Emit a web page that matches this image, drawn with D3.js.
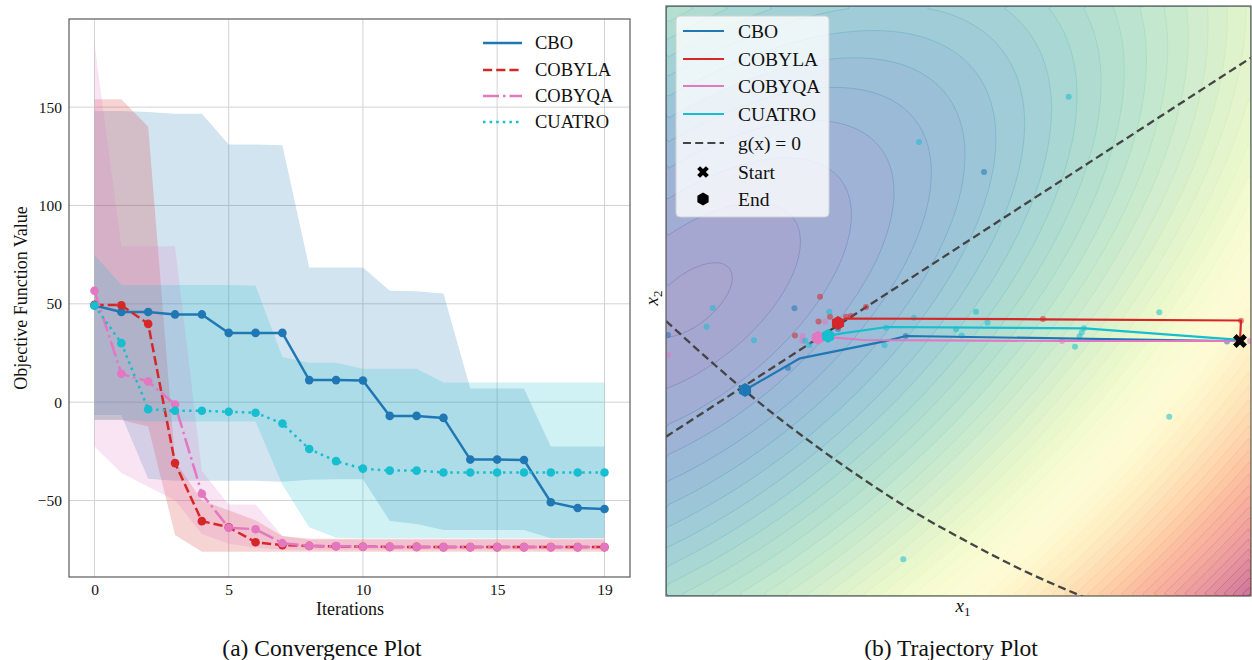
<!DOCTYPE html>
<html>
<head>
<meta charset="utf-8">
<script src="https://cdn.jsdelivr.net/npm/d3@7"></script>
<style>
  body { margin: 0; background: #fff; }
  svg text { font-family: "Liberation Serif", "Times New Roman", serif; fill: #111; }
</style>
</head>
<body>
<svg id="chart" width="1252" height="660"></svg>
<script>
// ---------------- Convergence data (objective value per iteration) ----------------
const iterations = d3.range(20);
const methodNames = ["CBO", "COBYLA", "COBYQA", "CUATRO"];
const methodColors = ["#1f77b4", "#d62728", "#e377c2", "#17becf"];

const cboValues    = [49.1, 45.8, 45.8, 44.6, 44.6, 35.2, 35.2, 35.2, 11.2, 11.2, 11.0, -7.0, -7.0, -8.0, -29.2, -29.2, -29.4, -50.9, -53.8, -54.3];
const cobylaValues = [49.5, 49.3, 39.8, -31.0, -60.5, -63.6, -71.2, -72.7, -73.1, -73.3, -73.5, -73.6, -73.6, -73.7, -73.7, -73.7, -73.7, -73.7, -73.7, -73.7];
const cobyqaValues = [56.6, 14.4, 10.5, -1.2, -46.6, -63.9, -64.6, -71.7, -73.1, -73.2, -73.5, -73.6, -73.6, -73.7, -73.7, -73.7, -73.7, -73.7, -73.7, -73.7];
const cuatroValues = [49.1, 30.0, -3.6, -4.4, -4.4, -4.9, -5.4, -10.9, -23.8, -30.0, -33.8, -34.8, -34.8, -35.8, -35.8, -35.8, -35.8, -35.8, -35.8, -35.8];

// spread across runs (upper / lower envelope)
const cboUpper    = [148, 148, 147.5, 146.6, 146.6, 131, 131, 130.6, 68.5, 68.5, 68.5, 56.6, 56.4, 55.2, 6.9, 6.9, 6.9, -22.6, -22.6, -22.6];
const cboLower    = [-6.5, -6.5, -39, -40, -40, -40, -40, -40.5, -39.5, -39.2, -39.2, -60.4, -62, -65, -65, -65, -65, -69.2, -69.2, -69.2];
const cobylaUpper = [154, 154, 140, -30, -50, -55, -60, -68, -69.5, -69.5, -69.5, -69.5, -69.5, -69.5, -69.5, -69.5, -69.5, -69.5, -69.5, -69.5];
const cobylaLower = [-9.1, -9.1, -12.4, -67.5, -76, -76, -76, -76, -76, -76, -76, -76, -76, -76, -76, -76, -76, -76, -76, -76];
const cobyqaUpper = [181.9, 79.2, 79.2, 79.2, -35, -52, -52, -68, -70, -70, -70, -70, -70, -70, -70, -70, -70, -70, -70, -70];
const cobyqaLower = [-22.6, -36, -43, -50, -67, -72, -74, -75, -75, -75, -75, -75, -75, -75, -75, -75, -75, -75, -75, -75];
const cuatroUpper = [75, 59.5, 59.5, 59.5, 59.5, 59.5, 59.2, 23, 20, 20, 17, 17, 17, 10, 10, 10, 10, 10, 10, 10];
const cuatroLower = [-9, -9, -9.9, -9.9, -9.9, -9.9, -9.9, -42, -63.6, -69, -69.2, -69.2, -69.2, -69.2, -69.2, -69.2, -69.2, -69.2, -69.2, -69.2];

const xTickValues = [0, 5, 10, 15, 19];
const yTickValues = [-50, 0, 50, 100, 150];

// ---------------- Trajectory data (x1, x2) ----------------
const startPoint = [5.74, 2.55];
const cboPath    = [[5.74, 2.55], [5.61, 2.55], [2.40, 2.60], [2.17, 2.543], [1.34, 2.377], [0.79, 2.06]];
const cobylaPath = [[5.74, 2.55], [5.75, 2.755], [3.77, 2.767], [1.80, 2.775], [1.72, 2.73]];
const cobyqaPath = [[5.74, 2.55], [3.96, 2.55], [1.97, 2.56], [1.69, 2.583], [1.52, 2.583]];
const cuatroPath = [[5.74, 2.55], [5.67, 2.567], [4.19, 2.677], [2.21, 2.69], [1.76, 2.627], [1.62, 2.60]];

// sampled candidate points per method
const cboSamples    = [[3.18, 4.24], [1.285, 2.877], [1.72, 2.67], [5.61, 2.545], [2.397, 2.60], [1.22, 2.28], [0.02, 2.61]];
const cobylaSamples = [[1.54, 2.993], [2.00, 2.89], [1.525, 2.745], [1.64, 2.793], [1.29, 2.605], [1.80, 2.793], [1.85, 2.80], [3.77, 2.77], [5.75, 2.753]];
const cobyqaSamples = [[1.59, 2.743], [1.365, 2.60], [1.363, 2.553], [3.96, 2.55], [5.84, 2.55], [0.02, 2.41]];
const cuatroSamples = [[2.53, 4.54], [4.027, 4.993], [0.467, 2.88], [0.407, 2.693], [0.88, 2.557], [1.633, 2.843], [1.39, 2.553], [1.433, 2.51],
  [2.185, 2.507], [2.20, 2.683], [2.48, 2.783], [2.373, 0.367], [2.90, 2.667], [2.957, 2.605], [3.10, 2.843], [3.215, 2.733],
  [4.18, 2.677], [4.157, 2.635], [4.135, 2.595], [4.09, 2.493], [4.933, 2.837], [5.033, 1.793]];

// zero level sets of the two constraints
const constraintLineA = [[0, 1.593], [5.85, 5.383]];
const constraintLineB = [[0, 2.75], [0.5, 2.30], [1.0, 1.88], [1.5, 1.50], [2.0, 1.15], [2.5, 0.83], [3.0, 0.55], [3.5, 0.29], [4.2, -0.02]];

// objective landscape: tilted bowl Q + k*sqrt(Q), Q = a*M^2 + m^2
const objCentre = [0.24, 2.96];
const objAngleDeg = 39;
const objMajorWeight = 0.244;
const objConeWeight = 1.2;
const contourLevels = 50;
const levelOffset = 0.6;

function objective(a, b) {
  const t = objAngleDeg * Math.PI / 180;
  const dx = a - objCentre[0], dy = b - objCentre[1];
  const major = dx * Math.cos(t) + dy * Math.sin(t);
  const minor = -dx * Math.sin(t) + dy * Math.cos(t);
  const q = objMajorWeight * major * major + minor * minor;
  return q + objConeWeight * Math.sqrt(q);
}

// ======================================================================
const svg = d3.select("#chart");
const axisGrey = "#5a5a5a";
const serif = "Liberation Serif, Times New Roman, serif";

// ---------------- Panel (a): convergence ----------------
const L = { left: 69, right: 630, top: 19, bottom: 577 };
const x = d3.scaleLinear().domain([-0.95, 19.95]).range([L.left, L.right]);
const y = d3.scaleLinear().domain([-88.9, 194.8]).range([L.bottom, L.top]);

const gA = svg.append("g");
gA.append("clipPath").attr("id", "clipA").append("rect")
  .attr("x", L.left).attr("y", L.top).attr("width", L.right - L.left).attr("height", L.bottom - L.top);

// grid
gA.append("g").selectAll("line").data(xTickValues).join("line")
  .attr("x1", d => x(d)).attr("x2", d => x(d)).attr("y1", L.top).attr("y2", L.bottom)
  .attr("stroke", "#d3d3d3").attr("stroke-width", 1);
gA.append("g").selectAll("line").data(yTickValues).join("line")
  .attr("x1", L.left).attr("x2", L.right).attr("y1", d => y(d)).attr("y2", d => y(d))
  .attr("stroke", "#d3d3d3").attr("stroke-width", 1);

const series = [
  { name: "CBO",    color: methodColors[0], values: cboValues,    upper: cboUpper,    lower: cboLower,    dash: null },
  { name: "COBYLA", color: methodColors[1], values: cobylaValues, upper: cobylaUpper, lower: cobylaLower, dash: "9.2,4" },
  { name: "COBYQA", color: methodColors[2], values: cobyqaValues, upper: cobyqaUpper, lower: cobyqaLower, dash: "16,4,2.5,4" },
  { name: "CUATRO", color: methodColors[3], values: cuatroValues, upper: cuatroUpper, lower: cuatroLower, dash: "2.5,4.1" }
];

const plotA = gA.append("g").attr("clip-path", "url(#clipA)");
const area = d3.area().x((d, i) => x(iterations[i])).y0(d => y(d[0])).y1(d => y(d[1]));
series.forEach(s => {
  plotA.append("path")
    .datum(s.lower.map((lo, i) => [lo, s.upper[i]]))
    .attr("d", area)
    .attr("fill", s.color).attr("fill-opacity", 0.2);
});
const line = d3.line().x((d, i) => x(iterations[i])).y(d => y(d));
series.forEach(s => {
  plotA.append("path").datum(s.values).attr("d", line)
    .attr("fill", "none").attr("stroke", s.color).attr("stroke-width", 2.5)
    .attr("stroke-dasharray", s.dash);
  plotA.append("g").selectAll("circle").data(s.values).join("circle")
    .attr("cx", (d, i) => x(iterations[i])).attr("cy", d => y(d)).attr("r", 4.3)
    .attr("fill", s.color);
});

// frame
gA.append("rect").attr("x", L.left).attr("y", L.top).attr("width", L.right - L.left).attr("height", L.bottom - L.top)
  .attr("fill", "none").attr("stroke", axisGrey).attr("stroke-width", 1.2);

// tick labels
const axisX = d3.axisBottom(x).tickValues(xTickValues).tickSize(0).tickPadding(7).tickFormat(d3.format("d"));
const gx = gA.append("g").attr("transform", `translate(0,${L.bottom})`).call(axisX).attr("font-family", serif);
gx.select(".domain").remove();
gx.selectAll("text").attr("font-size", 15.5).attr("fill", "#111");

const axisY = d3.axisLeft(y).tickValues(yTickValues).tickSize(0).tickPadding(7)
  .tickFormat(d => d < 0 ? "\u2212" + Math.abs(d) : String(d));
const gy = gA.append("g").attr("transform", `translate(${L.left},0)`).call(axisY).attr("font-family", serif);
gy.select(".domain").remove();
gy.selectAll("text").attr("font-size", 15.5).attr("fill", "#111");

gA.append("text").attr("x", (L.left + L.right) / 2 + 0.5).attr("y", 615).attr("text-anchor", "middle")
  .attr("font-size", 18).text("Iterations");
gA.append("text").attr("transform", `translate(27,${(L.top + L.bottom) / 2}) rotate(-90)`)
  .attr("text-anchor", "middle").attr("font-size", 18).text("Objective Function Value");

// legend (a)
const legA = gA.append("g");
series.forEach((s, i) => {
  const yy = [43, 70, 96, 122][i];
  legA.append("line").attr("x1", 483).attr("x2", 522).attr("y1", yy).attr("y2", yy)
    .attr("stroke", s.color).attr("stroke-width", 2.5).attr("stroke-dasharray", s.dash);
  legA.append("text").attr("x", 535).attr("y", yy).attr("dy", "0.34em").attr("font-size", 18.5).text(s.name);
});

// ---------------- Panel (b): trajectories ----------------
const R = { left: 666, right: 1251, top: 6, bottom: 596 };
const x1s = d3.scaleLinear().domain([0, 5.85]).range([R.left, R.right]);
const x2s = d3.scaleLinear().domain([0, 5.9]).range([R.bottom, R.top]);

const gB = svg.append("g");
gB.append("clipPath").attr("id", "clipB").append("rect")
  .attr("x", R.left).attr("y", R.top).attr("width", R.right - R.left).attr("height", R.bottom - R.top);
const plotB = gB.append("g").attr("clip-path", "url(#clipB)");

// filled contours of the objective
const nx = 117, ny = 118;
const cw = (R.right - R.left) / nx, ch = (R.bottom - R.top) / ny;
const grid = new Float64Array(nx * ny);
for (let j = 0; j < ny; j++) {
  for (let i = 0; i < nx; i++) {
    const a = x1s.invert(R.left + (i + 0.5) * cw);
    const b = x2s.invert(R.top + (j + 0.5) * ch);
    grid[j * nx + i] = objective(a, b);
  }
}
const [fmin, fmax] = d3.extent(grid);
const step = (fmax - fmin) / contourLevels;
const thresholds = [fmin].concat(d3.range(1, contourLevels + 1).map(k => fmin + step * (k - levelOffset)));
const cmap = t => d3.interpolateSpectral(1 - Math.max(0, Math.min(1, t)));
const fillAlpha = 0.53;
const bands = d3.contours().size([nx, ny]).thresholds(thresholds)(grid);
const gridPath = d3.geoPath(d3.geoTransform({
  point(px, py) { this.stream.point(R.left + px * cw, R.top + py * ch); }
}));
plotB.append("g").selectAll("path").data(bands).join("path")
  .attr("d", gridPath)
  .attr("fill", d => d3.interpolateRgb("#ffffff", cmap((d.value - fmin + 0.5 * step) / (fmax - fmin)))(fillAlpha))
  .attr("stroke", "none");
plotB.append("g").selectAll("path").data(bands.slice(1)).join("path")
  .attr("d", gridPath)
  .attr("fill", "none")
  .attr("stroke", d => cmap((d.value - fmin) / (fmax - fmin)))
  .attr("stroke-opacity", 0.45).attr("stroke-width", 0.7);

// constraint boundaries
const curveLine = d3.line().x(d => x1s(d[0])).y(d => x2s(d[1])).curve(d3.curveMonotoneX);
[constraintLineA, constraintLineB].forEach(c => {
  plotB.append("path").datum(c).attr("d", curveLine)
    .attr("fill", "none").attr("stroke", "#444").attr("stroke-width", 2.3).attr("stroke-dasharray", "8,4.2");
});

const traj = [
  { color: methodColors[0], path: cboPath,    samples: cboSamples },
  { color: methodColors[1], path: cobylaPath, samples: cobylaSamples },
  { color: methodColors[2], path: cobyqaPath, samples: cobyqaSamples },
  { color: methodColors[3], path: cuatroPath, samples: cuatroSamples }
];
traj.forEach(t => {
  plotB.append("g").selectAll("circle").data(t.samples).join("circle")
    .attr("cx", d => x1s(d[0])).attr("cy", d => x2s(d[1])).attr("r", 3)
    .attr("fill", t.color).attr("fill-opacity", 0.55);
});
const trajLine = d3.line().x(d => x1s(d[0])).y(d => x2s(d[1]));
traj.forEach(t => {
  plotB.append("path").datum(t.path).attr("d", trajLine)
    .attr("fill", "none").attr("stroke", t.color).attr("stroke-width", 2.2).attr("stroke-linejoin", "round");
});

function hexagonPath(r) {
  const pts = d3.range(6).map(k => {
    const a = Math.PI / 2 + k * Math.PI / 3;
    return [r * Math.cos(a), r * Math.sin(a)];
  });
  return "M" + pts.map(p => p.join(",")).join("L") + "Z";
}
const crossSymbol = d3.symbol().type(d3.symbolCross);

traj.forEach(t => {
  const end = t.path[t.path.length - 1];
  plotB.append("path").attr("d", hexagonPath(7))
    .attr("transform", `translate(${x1s(end[0])},${x2s(end[1])})`)
    .attr("fill", t.color);
});
plotB.append("path").attr("d", crossSymbol.size(120)())
  .attr("transform", `translate(${x1s(startPoint[0])},${x2s(startPoint[1])}) rotate(45)`)
  .attr("fill", "#000");

gB.append("rect").attr("x", R.left).attr("y", R.top).attr("width", R.right - R.left).attr("height", R.bottom - R.top)
  .attr("fill", "none").attr("stroke", axisGrey).attr("stroke-width", 1.2);

// axis labels
const lx = gB.append("text").attr("x", 963).attr("y", 612).attr("text-anchor", "middle").attr("font-size", 19);
lx.append("tspan").attr("font-style", "italic").text("x");
lx.append("tspan").attr("font-size", 13).attr("dy", 4).text("1");
const ly = gB.append("text").attr("transform", "translate(658,298) rotate(-90)").attr("text-anchor", "middle").attr("font-size", 19);
ly.append("tspan").attr("font-style", "italic").text("x");
ly.append("tspan").attr("font-size", 13).attr("dy", 4).text("2");

// legend (b)
const legB = gB.append("g");
legB.append("rect").attr("x", 676).attr("y", 16).attr("width", 153).attr("height", 201).attr("rx", 4)
  .attr("fill", "#ffffff").attr("fill-opacity", 0.8).attr("stroke", "#d0d0d0").attr("stroke-width", 1);
const legRows = [
  { label: "CBO", kind: "line", color: methodColors[0] },
  { label: "COBYLA", kind: "line", color: methodColors[1] },
  { label: "COBYQA", kind: "line", color: methodColors[2] },
  { label: "CUATRO", kind: "line", color: methodColors[3] },
  { label: "g(x) = 0", kind: "dash", color: "#444" },
  { label: "Start", kind: "start", color: "#000" },
  { label: "End", kind: "end", color: "#000" }
];
const rowY = [31, 59, 86, 114, 143, 172, 199];
legRows.forEach((r, i) => {
  const yy = rowY[i];
  if (r.kind === "line" || r.kind === "dash") {
    legB.append("line").attr("x1", 683).attr("x2", 724).attr("y1", yy).attr("y2", yy)
      .attr("stroke", r.color).attr("stroke-width", 2.2)
      .attr("stroke-dasharray", r.kind === "dash" ? "8,4.2" : null);
  } else if (r.kind === "start") {
    legB.append("path").attr("d", crossSymbol.size(85)()).attr("transform", `translate(703,${yy}) rotate(45)`).attr("fill", "#000");
  } else {
    legB.append("path").attr("d", hexagonPath(6.5)).attr("transform", `translate(703,${yy})`).attr("fill", "#000");
  }
  legB.append("text").attr("x", 738).attr("y", yy).attr("dy", "0.34em").attr("font-size", 19.5).text(r.label);
});

// captions
svg.append("text").attr("x", 322).attr("y", 656).attr("text-anchor", "middle").attr("font-size", 23.5).text("(a) Convergence Plot");
svg.append("text").attr("x", 951).attr("y", 656).attr("text-anchor", "middle").attr("font-size", 23.5).text("(b) Trajectory Plot");
</script>
</body>
</html>
